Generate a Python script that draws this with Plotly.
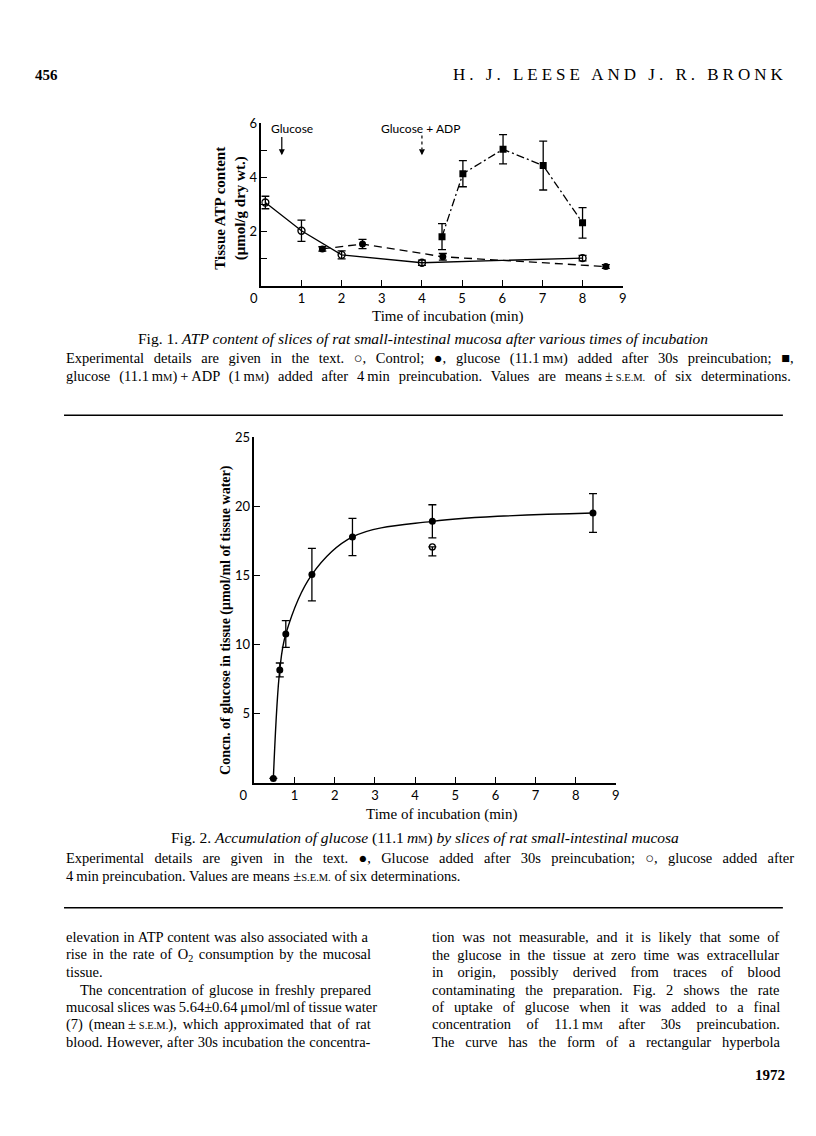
import re
import plotly.graph_objects as go

W, H = 816, 1136
OFF = 8  # default body margin of the html page

# Fig. 1 - tissue ATP content (umol/g dry wt.) vs time (min)
ctrl_t = [0.1, 1, 2, 4, 8]
ctrl_atp = [3.08, 2.04, 1.15, 0.86, 1.03]
ctrl_sem = [0.23, 0.39, 0.15, 0.1, 0.1]

gluc_t = [1.52, 2.52, 4.52, 8.58]
gluc_atp = [1.37, 1.55, 1.08, 0.72]
gluc_sem = [0.08, 0.17, 0.12, 0.07]

adp_t = [4.5, 5.02, 6.02, 7.02, 8.0]
adp_atp = [1.82, 4.14, 5.04, 4.44, 2.33]
adp_sem = [0.48, 0.48, 0.54, 0.9, 0.56]

# Fig. 2 - glucose in tissue (umol/ml tissue water) vs time (min)
g30_t = [0.47, 0.63, 0.78, 1.43, 2.44, 4.43, 8.43]
g30_conc = [0.3, 8.15, 10.75, 15.05, 17.77, 18.9, 19.5]
g30_sem = [0, 0.5, 0.97, 1.9, 1.35, 1.2, 1.4]

g4_t = [4.43]
g4_conc = [17.05]
g4_sem_minus = [0.65]

x_ticks = list(range(10))
fig1_x_text = ["0\u2007\u2007"] + [str(i) for i in range(1, 10)]
fig2_x_text = ["0\u2007\u2007\u2007"] + [str(i) for i in range(1, 10)]
fig1_y_ticks = [1, 2, 3, 4, 5, 6]
fig1_y_text = ["", "2", "", "4", "", "6"]
fig2_y_ticks = [5, 10, 15, 20, 25]

SC_SIZE = 10.5


def sc(s):
    return f'<span style="font-size:{SC_SIZE}px">{s}</span>'


MM = "m" + sc("M")
SEM = sc("S.E.M.")

fig1_caption = ("Fig. 1. <i>ATP content of slices of rat small-intestinal mucosa "
                "after various times of incubation</i>")
fig1_legend = [
    "Experimental details are given in the text. \u25cb, Control; \u25cf, glucose (11.1\u2009" + MM +
    ") added after 30s preincubation; \u25a0,",
    "glucose (11.1\u2009" + MM + ")\u2009+\u2009ADP (1\u2009" + MM + ") added after 4\u2009min preincubation. "
    "Values are means\u2009\u00b1\u2009" + SEM + " of six determinations.",
]
fig2_caption = ("Fig. 2. <i>Accumulation of glucose</i> (11.1\u2009<i>m</i>" + sc("M") +
                ") <i>by slices of rat small-intestinal mucosa</i>")
fig2_legend = [
    "Experimental details are given in the text. \u25cf, Glucose added after 30s preincubation; "
    "\u25cb, glucose added after",
    "4\u2009min preincubation. Values are means \u00b1" + SEM + " of six determinations.",
]

left_col = [
    "elevation in ATP content was also associated with a",
    "rise in the rate of O<sub>2</sub> consumption by the mucosal",
    "tissue.",
    "The concentration of glucose in freshly prepared",
    "mucosal slices was 5.64\u00b10.64\u2009\u03bcmol/ml of tissue water",
    "(7) (mean\u2009\u00b1\u2009" + SEM + "), which approximated that of rat",
    "blood. However, after 30s incubation the concentra-",
]
right_col = [
    "tion was not measurable, and it is likely that some of",
    "the glucose in the tissue at zero time was extracellular",
    "in origin, possibly derived from traces of blood",
    "contaminating the preparation. Fig. 2 shows the rate",
    "of uptake of glucose when it was added to a final",
    "concentration of 11.1\u2009" + MM + " after 30s preincubation.",
    "The curve has the form of a rectangular hyperbola",
]

# approximate Times advance widths (1/1000 em), used to justify lines
CW = dict(zip("abcdefghijklmnopqrstuvwxyz",
              [444, 500, 444, 500, 444, 333, 500, 500, 278, 278, 500, 278, 778,
               500, 500, 500, 500, 333, 389, 278, 500, 500, 722, 500, 500, 444]))
CW.update(zip("ABCDEFGHIJKLMNOPQRSTUVWXYZ",
              [722, 667, 667, 722, 611, 556, 722, 722, 333, 389, 722, 611, 889,
               722, 722, 556, 722, 667, 556, 611, 722, 722, 944, 722, 722, 611]))
CW.update({c: 500 for c in "0123456789"})
CW.update({" ": 250, ".": 250, ",": 250, ";": 278, ":": 278, "-": 333, "(": 333,
           ")": 333, "+": 564, "\u00b1": 564, "/": 278, "\u03bc": 576,
           "\u2009": 200, "\u25cb": 600, "\u25cf": 600, "\u25a0": 600})


def est_width(markup, size):
    w, cur, spaces = 0.0, size, 0
    for tok in re.split(r"(<[^>]+>)", markup):
        if tok.startswith("<"):
            m = re.search(r"font-size:([\d.]+)px", tok)
            if m:
                cur = float(m.group(1))
            elif tok == "<sub>":
                cur = size * 0.7
            elif tok in ("</span>", "</sub>"):
                cur = size
            continue
        for ch in tok:
            w += CW.get(ch, 500) / 1000 * cur
            spaces += ch == " "
    return w, spaces


def justify(markup, size, target):
    w, n = est_width(markup, size)
    if n == 0:
        return markup
    ws = max((target - w) / n, -0.4)
    return f'<span style="word-spacing:{ws:.2f}px">{markup}</span>'


def px(x):
    return (x - OFF) / W


def py(y):
    return 1 - (y - OFF) / H


SERIF = "Liberation Serif"
SANS = "Lato"
err = dict(type="data", thickness=1.3, width=4, color="black")

fig = go.Figure()

fig.add_trace(go.Scatter(
    x=ctrl_t, y=ctrl_atp, mode="lines+markers",
    line=dict(color="black", width=1.3),
    marker=dict(symbol="circle-open", size=7, color="black", line=dict(width=1.4)),
    error_y=dict(err, array=ctrl_sem), xaxis="x", yaxis="y"))
fig.add_trace(go.Scatter(
    x=gluc_t, y=gluc_atp, mode="lines+markers",
    line=dict(color="black", width=1.3, dash="8px,5px"),
    marker=dict(symbol="circle", size=7, color="black"),
    error_y=dict(err, array=gluc_sem), xaxis="x", yaxis="y"))
fig.add_trace(go.Scatter(
    x=adp_t, y=adp_atp, mode="lines+markers",
    line=dict(color="black", width=1.3, dash="8px,3px,2px,3px"),
    marker=dict(symbol="square", size=7, color="black"),
    error_y=dict(err, array=adp_sem), xaxis="x", yaxis="y"))

fig.add_trace(go.Scatter(
    x=g30_t, y=g30_conc, mode="lines+markers",
    line=dict(color="black", width=1.4, shape="spline", smoothing=1.0),
    marker=dict(symbol="circle", size=7, color="black"),
    error_y=dict(err, array=g30_sem), xaxis="x2", yaxis="y2"))
fig.add_trace(go.Scatter(
    x=g4_t, y=g4_conc, mode="markers",
    marker=dict(symbol="circle-open", size=6, color="black", line=dict(width=1.3)),
    error_y=dict(err, symmetric=False, array=[0], arrayminus=g4_sem_minus),
    xaxis="x2", yaxis="y2"))

axis_common = dict(
    showline=True, linecolor="black", linewidth=1.5, ticks="inside",
    ticklen=6, tickwidth=1.3, tickcolor="black", showgrid=False, zeroline=False,
    tickfont=dict(family=SANS, size=13, color="black"),
)

fig.update_layout(
    width=W, height=H, margin=dict(l=0, r=0, t=0, b=0),
    paper_bgcolor="white", plot_bgcolor="white", showlegend=False,
    xaxis=dict(axis_common, domain=[px(252), px(622)], range=[0, 9],
               tickvals=x_ticks, ticktext=fig1_x_text, anchor="y"),
    yaxis=dict(axis_common, domain=[py(280), py(116)], range=[0, 6],
               tickvals=fig1_y_ticks, ticktext=fig1_y_text, anchor="x"),
    xaxis2=dict(axis_common, domain=[px(245), px(615)], range=[0, 9],
                tickvals=x_ticks, ticktext=fig2_x_text, anchor="y2"),
    yaxis2=dict(axis_common, domain=[py(780), py(432)], range=[0, 25],
                tickvals=fig2_y_ticks, anchor="x2"),
)

ann = []


def text(x, y, s, size=14.5, anchor="left", family=SERIF, angle=0):
    ann.append(dict(xref="paper", yref="paper", x=px(x), y=py(y), text=s,
                    showarrow=False, xanchor=anchor, yanchor="middle",
                    textangle=angle,
                    font=dict(family=family, size=size, color="black")))


LM = 50  # left margin of the text block

# page header / footer
text(18, 67, "<b>456</b>", size=15)
text(792, 67, '<span style="letter-spacing:4px">H. J. LEESE AND J. R. BRONK</span>',
     size=17, anchor="right")
text(790, 1075, "<b>1972</b>", size=15, anchor="right")

# fig 1 labels
text(443, 311, "Time of incubation (min)", size=15, anchor="center")
text(221, 202, "<b>Tissue ATP content<br>(\u03bcmol/g dry wt.)</b>", size=15,
     anchor="center", angle=-90)
text(418, 333, fig1_caption, size=15.5, anchor="center")
for i, line in enumerate(fig1_legend):
    text(LM, 353 + 18 * i, justify(line, 14.5, 728))

# fig 2 labels
text(437, 812, "Time of incubation (min)", size=15, anchor="center")
text(216, 616, "<b>Concn. of glucose in tissue (\u03bcmol/ml of tissue water)</b>",
     size=14, anchor="center", angle=-90)
text(420, 836, fig2_caption, size=15.5, anchor="center")
text(LM, 856, justify(fig2_legend[0], 14.5, 728))
text(LM, 874, fig2_legend[1])

# body text, two justified columns
for i, line in enumerate(left_col):
    if i == 2:
        text(LM, 936 + 17.5 * i, line)
    elif i == 3:
        text(LM + 14, 936 + 17.5 * i, justify(line, 14.5, 291))
    else:
        text(LM, 936 + 17.5 * i, justify(line, 14.5, 305))
for i, line in enumerate(right_col):
    text(425, 936 + 17.5 * i, justify(line, 15, 358))

# in-plot labels and arrows (fig 1)
ann.append(dict(xref="x", yref="y", x=0.18, y=5.82, text="Glucose", showarrow=False,
                xanchor="left", font=dict(family=SANS, size=12, color="black")))
ann.append(dict(xref="x", yref="y", x=3.97, y=5.82, text="Glucose + ADP",
                showarrow=False, xanchor="center",
                font=dict(family=SANS, size=12, color="black")))
ann.append(dict(xref="x", yref="y", x=0.51, y=4.82, ax=0.51, ay=5.55,
                axref="x", ayref="y", text="", showarrow=True, arrowhead=2,
                arrowsize=1, arrowwidth=1.2, arrowcolor="black"))
ann.append(dict(xref="x", yref="y", x=4.0, y=4.82, ax=4.0, ay=5.05,
                axref="x", ayref="y", text="", showarrow=True, arrowhead=2,
                arrowsize=1, arrowwidth=1.2, arrowcolor="black"))

fig.update_layout(annotations=ann)

fig.add_shape(type="line", xref="x", yref="y", x0=4.0, x1=4.0, y0=5.55, y1=5.05,
              line=dict(color="black", width=1.2, dash="dot"))
for yy in (410, 906):
    fig.add_shape(type="line", xref="paper", yref="paper", x0=px(50), x1=px(786),
                  y0=py(yy), y1=py(yy), line=dict(color="black", width=1.5))

fig.write_html("out.html")
